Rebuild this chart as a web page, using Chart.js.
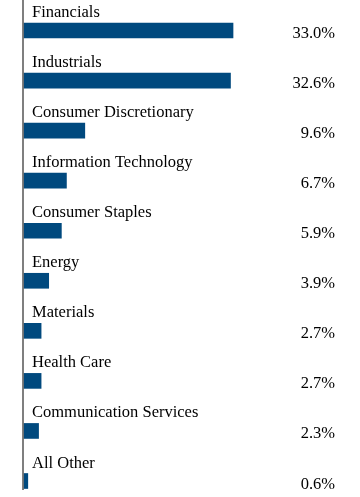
<!DOCTYPE html>
<html>
<head>
<meta charset="utf-8">
<script src="https://cdn.jsdelivr.net/npm/chart.js@4"></script>
<style>
html,body{margin:0;padding:0;background:#fff;}
#wrap{width:360px;height:497px;position:relative;}
</style>
</head>
<body>
<div id="wrap"><canvas id="c" width="360" height="497"></canvas></div>
<script>
const categories = ["Financials","Industrials","Consumer Discretionary","Information Technology","Consumer Staples","Energy","Materials","Health Care","Communication Services","All Other"];
const values = [33.0,32.6,9.6,6.7,5.9,3.9,2.7,2.7,2.3,0.6];
const valueLabels = ["33.0%","32.6%","9.6%","6.7%","5.9%","3.9%","2.7%","2.7%","2.3%","0.6%"];

const FONT = '"Liberation Serif","Times New Roman",serif';

const labelPlugin = {
  id: 'labelPlugin',
  afterDatasetsDraw(chart) {
    const ctx = chart.ctx;
    const meta = chart.getDatasetMeta(0);
    const area = chart.chartArea;
    ctx.save();
    // axis line
    ctx.strokeStyle = '#555555';
    ctx.lineWidth = 1.5;
    ctx.beginPath();
    ctx.moveTo(area.left - 1, 0);
    ctx.lineTo(area.left - 1, 490);
    ctx.stroke();
    ctx.fillStyle = '#000000';
    ctx.font = '16.5px ' + FONT;
    meta.data.forEach((bar, i) => {
      ctx.textAlign = 'left';
      ctx.textBaseline = 'alphabetic';
      ctx.fillText(categories[i], area.left + 8, bar.y - 13.5);
      ctx.textAlign = 'right';
      ctx.fillText(valueLabels[i], 335, bar.y + 7.5);
    });
    ctx.restore();
  }
};

new Chart(document.getElementById('c'), {
  type: 'bar',
  data: {
    labels: categories,
    datasets: [{
      data: values,
      backgroundColor: '#00497e',
      borderWidth: 0,
      barThickness: 15,
      clip: false
    }]
  },
  options: {
    indexAxis: 'y',
    responsive: false,
    animation: false,
    devicePixelRatio: 1,
    layout: { padding: { left: 24, right: 19.3, top: 30.5, bottom: 16 } },
    plugins: { legend: { display: false }, tooltip: { enabled: false } },
    scales: {
      x: { display: false, min: 0, max: 50 },
      y: { display: false, offset: false }
    }
  },
  plugins: [labelPlugin]
});
</script>
</body>
</html>
